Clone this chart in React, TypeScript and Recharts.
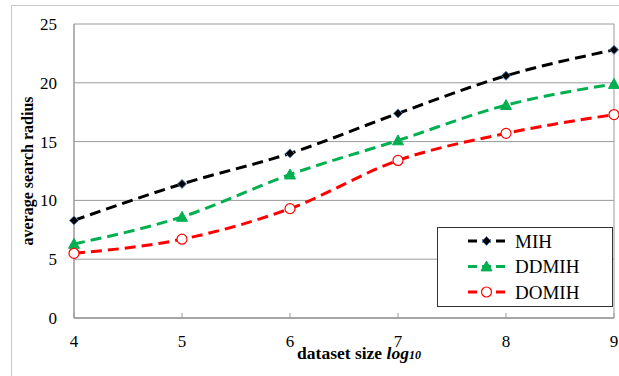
import React from 'react';
import { LineChart, Line, XAxis, YAxis, CartesianGrid, ReferenceLine, Label } from 'recharts';

const xValues = [4, 5, 6, 7, 8, 9];
const mihValues = [8.3, 11.4, 14.0, 17.4, 20.6, 22.8];
const ddmihValues = [6.3, 8.6, 12.2, 15.1, 18.1, 19.9];
const domihValues = [5.5, 6.7, 9.3, 13.4, 15.7, 17.3];
const yTicks = [0, 5, 10, 15, 20, 25];
const seriesNames = ['MIH', 'DDMIH', 'DOMIH'];

const data = xValues.map((x, i) => ({
  x,
  MIH: mihValues[i],
  DDMIH: ddmihValues[i],
  DOMIH: domihValues[i],
}));

const FONT = "'Liberation Serif', 'Times New Roman', 'DejaVu Serif', serif";
const GREEN = '#00b050';
const RED = '#ff0000';
const GRID = '#9a9a9a';

const Diamond = (props: any) => {
  const { cx, cy } = props;
  if (cx == null || cy == null) return null;
  const s = 4.5;
  return (
    <polygon
      points={`${cx},${cy - s} ${cx + s},${cy} ${cx},${cy + s} ${cx - s},${cy}`}
      fill="#000"
      stroke="#4f81bd"
      strokeWidth={1}
    />
  );
};

const Triangle = (props: any) => {
  const { cx, cy } = props;
  if (cx == null || cy == null) return null;
  const s = 5.5;
  return (
    <polygon
      points={`${cx},${cy - s} ${cx + s},${cy + s * 0.8} ${cx - s},${cy + s * 0.8}`}
      fill={GREEN}
      stroke={GREEN}
      strokeWidth={1}
    />
  );
};

const Circle = (props: any) => {
  const { cx, cy } = props;
  if (cx == null || cy == null) return null;
  return <circle cx={cx} cy={cy} r={5} fill="#fff" stroke={RED} strokeWidth={1.2} />;
};

const XTick = (props: any) => {
  const { x, y, payload } = props;
  return (
    <g>
      <line x1={x} y1={y - 5} x2={x} y2={y} stroke={GRID} strokeWidth={1} />
      <text x={x} y={y + 29} textAnchor="middle" style={{ fontFamily: FONT, fontSize: 17 }} fill="#000">
        {payload.value}
      </text>
    </g>
  );
};

const YTick = (props: any) => {
  const { x, y, payload } = props;
  return (
    <text x={x} y={y + 6} textAnchor="end" style={{ fontFamily: FONT, fontSize: 17 }} fill="#000">
      {payload.value}
    </text>
  );
};

const legendMarkers: Record<string, (cx: number, cy: number) => React.ReactNode> = {
  MIH: (cx, cy) => <Diamond cx={cx} cy={cy} />,
  DDMIH: (cx, cy) => <Triangle cx={cx} cy={cy} />,
  DOMIH: (cx, cy) => <Circle cx={cx} cy={cy} />,
};
const legendColors: Record<string, string> = { MIH: '#000', DDMIH: GREEN, DOMIH: RED };

const ChartLegend = () => (
  <div
    style={{
      position: 'absolute',
      left: 437,
      top: 227,
      width: 176,
      height: 80,
      border: '1px solid #333',
      background: '#fff',
      boxSizing: 'border-box',
      lineHeight: 0,
    }}
  >
    <svg width={174} height={78}>
      {seriesNames.map((name, i) => {
        const cy = 13 + i * 25.5;
        return (
          <g key={name}>
            <line x1={30} y1={cy} x2={67} y2={cy} stroke={legendColors[name]} strokeWidth={3} strokeDasharray="9 5" />
            {legendMarkers[name](48.5, cy)}
            <text x={77} y={cy + 6.5} style={{ fontFamily: FONT, fontSize: 19 }} fill="#000">
              {name}
            </text>
          </g>
        );
      })}
    </svg>
  </div>
);

const XLabel = (props: any) => {
  const { viewBox } = props;
  const cx = viewBox.x + viewBox.width / 2;
  return (
    <text
      x={cx + 15}
      y={viewBox.y + 41}
      textAnchor="middle"
      style={{ fontFamily: FONT, fontSize: 17.5, fontWeight: 'bold' }}
      fill="#000"
    >
      dataset size{' '}
      <tspan fontStyle="italic">log</tspan>
      <tspan fontStyle="italic" fontSize={12}>10</tspan>
    </text>
  );
};

const YLabel = (props: any) => {
  const { viewBox } = props;
  const y = viewBox.y + viewBox.height / 2;
  const x = 27;
  return (
    <text
      x={x}
      y={y}
      transform={`rotate(-90 ${x} ${y})`}
      textAnchor="middle"
      dominantBaseline="central"
      style={{ fontFamily: FONT, fontSize: 16, fontWeight: 'bold' }}
      fill="#000"
    >
      average search radius
    </text>
  );
};

export default function App() {
  return (
    <div style={{ position: 'absolute', left: 0, top: 0, width: 619, height: 376, background: '#fff', overflow: 'hidden' }}>
      <div
        style={{
          position: 'absolute',
          left: 11,
          top: 5,
          width: 640,
          height: 400,
          borderTop: '1px solid #c8c8c8',
          borderLeft: '1px solid #c8c8c8',
        }}
      />
      <div style={{ position: 'absolute', left: 0, top: 0 }}>
        <LineChart width={619} height={376} data={data} margin={{ top: 24, right: 5, left: 14, bottom: 28 }}>
          <CartesianGrid horizontal={true} vertical={false} stroke={GRID} strokeWidth={1} />
          <ReferenceLine x={9} stroke={GRID} strokeWidth={1} />
          <XAxis
            dataKey="x"
            type="number"
            domain={[4, 9]}
            ticks={xValues}
            axisLine={{ stroke: GRID, strokeWidth: 1.5 }}
            tickLine={false}
            tickSize={0}
            tickMargin={0}
            tick={<XTick />}
            height={30}
          >
            <Label content={<XLabel />} />
          </XAxis>
          <YAxis
            type="number"
            domain={[0, 25]}
            ticks={yTicks}
            width={60}
            axisLine={{ stroke: GRID, strokeWidth: 1.5 }}
            tickLine={false}
            tickSize={0}
            tickMargin={17}
            tick={<YTick />}
          >
            <Label content={<YLabel />} />
          </YAxis>
          <Line
            type="monotone"
            dataKey="MIH"
            stroke="#000"
            strokeWidth={3}
            strokeDasharray="11 6"
            dot={<Diamond />}
            isAnimationActive={false}
          />
          <Line
            type="monotone"
            dataKey="DDMIH"
            stroke={GREEN}
            strokeWidth={3}
            strokeDasharray="11 6"
            dot={<Triangle />}
            isAnimationActive={false}
          />
          <Line
            type="monotone"
            dataKey="DOMIH"
            stroke={RED}
            strokeWidth={3}
            strokeDasharray="11 6"
            dot={<Circle />}
            isAnimationActive={false}
          />
        </LineChart>
      </div>
      <ChartLegend />
    </div>
  );
}
